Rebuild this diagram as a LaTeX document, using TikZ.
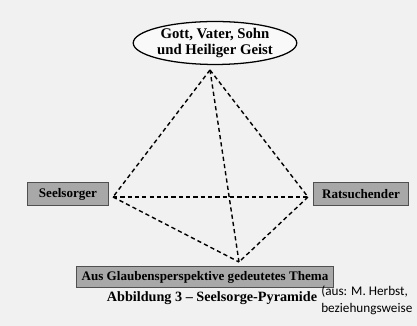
\documentclass[tikz,border=0pt]{standalone}
\usepackage{fontspec}
\setmainfont{Liberation Serif}
\newfontfamily\notefont{Carlito}
\usetikzlibrary{shapes.geometric}

\definecolor{pagegray}{HTML}{F1F1F1}
\definecolor{boxgray}{HTML}{A8A8A8}
\definecolor{rimgray}{HTML}{505050}

\tikzset{
    rolebox/.style={draw=rimgray, fill=boxgray, line width=0.7pt, font=\bfseries\fontsize{9.3}{10}\selectfont,
        minimum height=0.55cm, inner sep=1pt},
    godnode/.style={ellipse, draw, line width=0.9pt, fill=white!60!pagegray, align=center,
        font=\bfseries\fontsize{10.5}{12}\selectfont, minimum width=3.4cm, minimum height=0.98cm, inner sep=0pt},
    edge/.style={line width=1pt, dash pattern=on 3pt off 2.2pt},
}

\begin{document}
\begin{tikzpicture}[x=0.025cm, y=-0.025cm] % Seelsorge pyramid
\fill[pagegray] (0,0) rectangle (417,326);
\useasboundingbox (0,0) rectangle (417,326);

\node[godnode] (god) at (215,43) {Gott, Vater, Sohn\\und Heiliger Geist};
\node[rolebox, minimum width=2cm] (pastor) at (68,194) {Seelsorger};
\node[rolebox, minimum width=2.375cm] (seeker) at (361,194) {Ratsuchender};
\node[rolebox, minimum width=6.425cm, minimum height=0.5cm] (theme) at (205,277) {Aus Glaubensperspektive gedeutetes Thema};

% corners of the pyramid
\coordinate (top) at (210,70);
\coordinate (left) at (113,197);
\coordinate (right) at (308,197);
\coordinate (front) at (239,262);

\draw[edge] (top) -- (left);
\draw[edge] (top) -- (right);
\draw[edge] (top) -- (front);
\draw[edge] (left) -- (right);
\draw[edge] (left) -- (front);
\draw[edge] (right) -- (front);

\node[font=\bfseries\fontsize{10.1}{11}\selectfont] (caption) at (212,298) {Abbildung 3 -- Seelsorge-Pyramide};
\node[font=\notefont\fontsize{9.4}{11.5}\selectfont, anchor=north west, align=left, inner sep=0pt] (source) at (321,286) {(aus: M. Herbst,\\beziehungsweise};
\end{tikzpicture}
\end{document}
